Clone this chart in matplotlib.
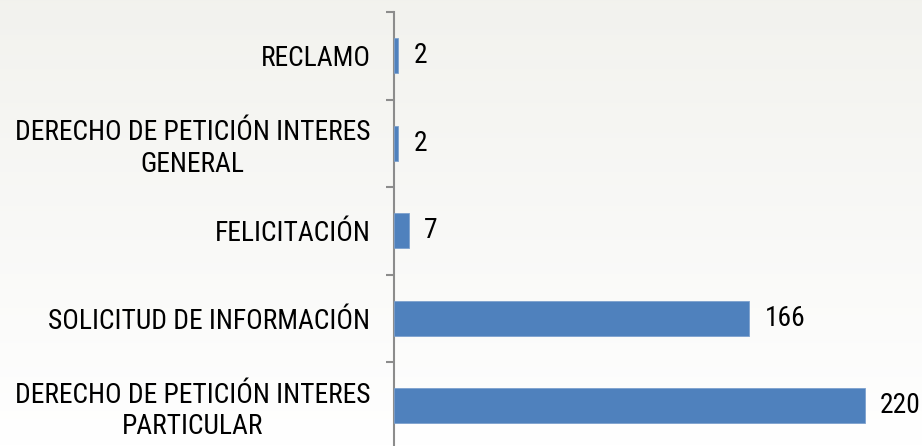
import numpy as np
import matplotlib
matplotlib.use("Agg")
import matplotlib.pyplot as plt
from matplotlib import font_manager

categories = ["RECLAMO",
              "DERECHO DE PETICIÓN INTERES\nGENERAL",
              "FELICITACIÓN",
              "SOLICITUD DE INFORMACIÓN",
              "DERECHO DE PETICIÓN INTERES\nPARTICULAR"]
values = [2, 2, 7, 166, 220]

avail = {f.name for f in font_manager.fontManager.ttflist}
prefs = ["Liberation Sans Narrow", "Arial Narrow", "Roboto Condensed", "PT Sans Narrow",
         "Archivo Narrow", "Open Sans Condensed", "Asap Condensed", "Liberation Sans"]
fam = next(p for p in prefs if p in avail)
plt.rcParams['font.family'] = [fam, 'DejaVu Sans']

W, H = 922, 446
fig = plt.figure(figsize=(W/100, H/100), dpi=100)

# size the font so the longest label line matches the reference width (~355 px)
probe = fig.text(0, 0, "DERECHO DE PETICIÓN INTERES", fontsize=19)
fig.canvas.draw()
wpx = probe.get_window_extent().width
probe.remove()
fs = min(21, 19 * 355.0 / wpx)

# background gradient
bg = fig.add_axes([0, 0, 1, 1], zorder=-10)
grad = np.linspace(0, 1, 256).reshape(-1, 1)
top = np.array([0.949, 0.949, 0.933])
bot = np.array([1.0, 1.0, 1.0])
img = top[None, None, :] * (1 - grad[:, :, None]) + bot[None, None, :] * grad[:, :, None]
bg.imshow(img, aspect='auto', extent=[0, 1, 0, 1])
bg.axis('off')

ax_left = 394 / W
ax_top = 12
ax_h = 437.5
ax = fig.add_axes([ax_left, (H - ax_top - ax_h) / H, 535 / W, ax_h / H])
ax.patch.set_alpha(0)

y = np.arange(len(categories))
bars = ax.barh(y, values, height=0.4, color='#4F81BD', edgecolor='#7DA1CE', linewidth=0.6, zorder=3)
ax.set_xlim(0, 250)
ax.set_ylim(len(categories) - 0.5, -0.5)

for s in ['top', 'right', 'bottom']:
    ax.spines[s].set_visible(False)
ax.spines['left'].set_color('#8C8C8C')
ax.spines['left'].set_linewidth(1.5)
ax.set_xticks([])

ax.set_yticks(y)
ax.set_yticklabels(categories, fontsize=fs, multialignment='center', linespacing=1.22)
ax.tick_params(axis='y', which='major', length=0, pad=17)
ax.set_yticks(np.arange(-0.5, len(categories), 1.0), minor=True)
ax.tick_params(axis='y', which='minor', length=6, width=1.5, color='#8C8C8C', direction='out')

for b, v in zip(bars, values):
    ax.annotate(str(v), (b.get_width(), b.get_y() + b.get_height() / 2),
                xytext=(11, 0), textcoords='offset points',
                ha='left', va='center', fontsize=fs, color='black')

fig.savefig("out.png", dpi=100)
